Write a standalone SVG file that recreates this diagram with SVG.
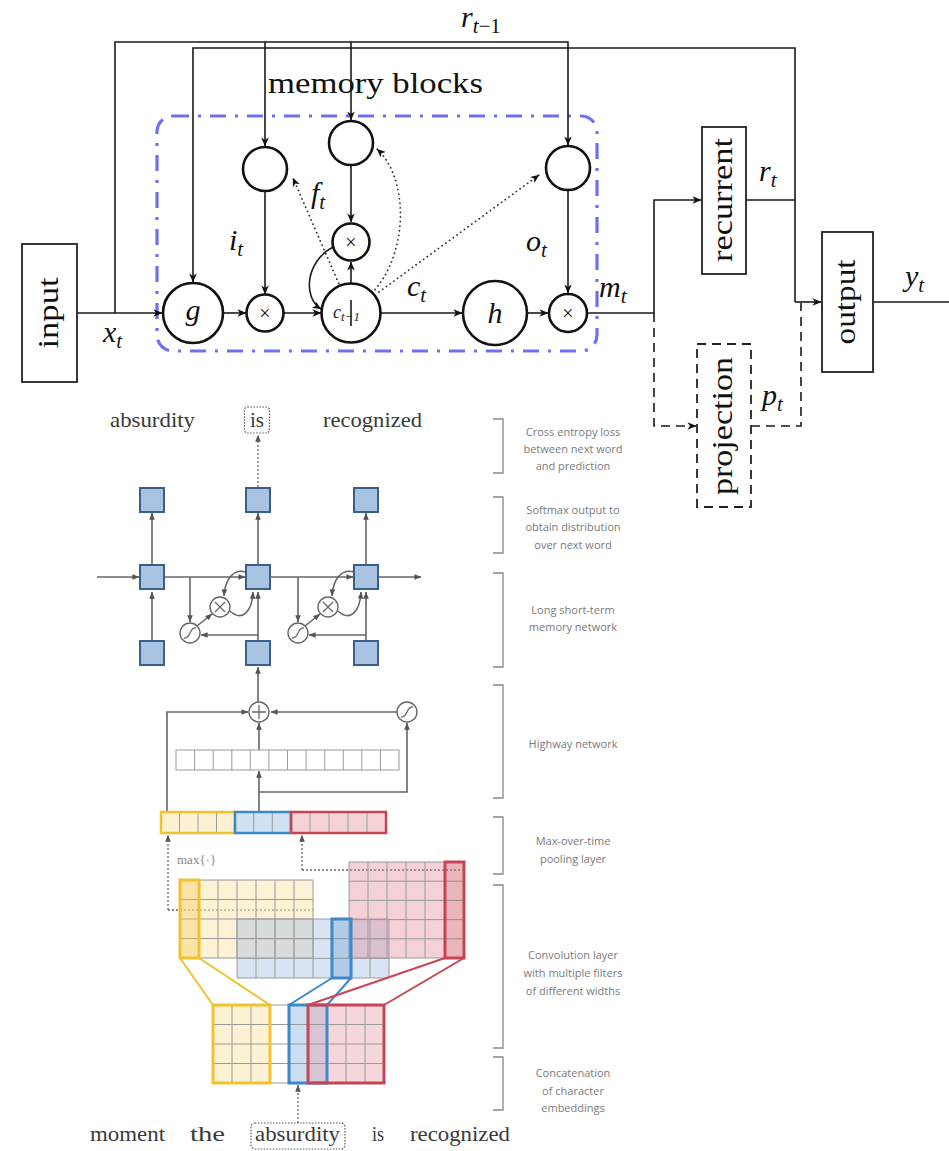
<svg xmlns="http://www.w3.org/2000/svg" width="949" height="1151" viewBox="0 0 949 1151">
<defs>
<marker id="ab" viewBox="0 0 10 10" refX="9.5" refY="5" markerWidth="9" markerHeight="9" markerUnits="userSpaceOnUse" orient="auto"><path d="M0,0.8 L10,5 L0,9.2 L2.8,5z" fill="#111"/></marker>
<marker id="ag" viewBox="0 0 10 10" refX="9.5" refY="5" markerWidth="7" markerHeight="7" markerUnits="userSpaceOnUse" orient="auto"><path d="M0,1 L10,5 L0,9 z" fill="#555"/></marker>
<style>
.ln{fill:none;stroke:#1a1a1a;stroke-width:1.6}
.dsh{fill:none;stroke:#1a1a1a;stroke-width:1.6;stroke-dasharray:9 6}
.dot{fill:none;stroke:#333;stroke-width:1.8;stroke-dasharray:0.1 4.5;stroke-linecap:round}
.cir{fill:#fff;stroke:#111;stroke-width:2.6}
.box{fill:#fff;stroke:#222;stroke-width:1.8}
.m{font-family:"Liberation Serif",serif;font-style:italic;font-size:30px;fill:#111}
.rm{font-family:"Liberation Serif",serif;font-size:30px;fill:#111}
.x{font-family:"Liberation Serif",serif;font-size:20px;fill:#111;text-anchor:middle}
.gl{fill:none;stroke:#666;stroke-width:1.6}
.gd{fill:none;stroke:#666;stroke-width:1.3;stroke-dasharray:2 2}
.sq{fill:#a9c4e2;stroke:#3b5e8c;stroke-width:2}
.gc{fill:#fff;stroke:#666;stroke-width:1.4}
.gs{fill:none;stroke:#666;stroke-width:1.3}
.grid{fill:none;stroke:#9a9a9a;stroke-width:1}
.w{font-family:"Liberation Serif",serif;font-size:21px;fill:#3a3a3a}
.lab{font-family:"Open Sans",sans-serif;font-size:11px;fill:#7a7a7a;text-anchor:middle}
.br{fill:none;stroke:#888;stroke-width:1.3}
</style>
</defs>
<rect width="949" height="1151" fill="#fff"/>

<!-- ===== TOP: LSTM with projection ===== -->
<g id="memblock">
<rect x="157" y="116" width="440" height="235" rx="16" fill="none" stroke="#6f6ff2" stroke-width="3.2" stroke-dasharray="16 9 3 9"/>
<text class="rm" x="268" y="93" textLength="215" lengthAdjust="spacingAndGlyphs">memory blocks</text>
</g>

<g id="connectors">
<path class="ln" d="M115,313 V42 H568 V145" marker-end="url(#ab)"/>
<path class="ln" d="M265,42 V146" marker-end="url(#ab)"/>
<path class="ln" d="M351,42 V120" marker-end="url(#ab)"/>
<path class="ln" d="M795,302 V48 H193 V282" marker-end="url(#ab)"/>
<path class="ln" d="M77,313 H162" marker-end="url(#ab)"/>
<path class="ln" d="M223,313 H246" marker-end="url(#ab)"/>
<path class="ln" d="M265,191 V294" marker-end="url(#ab)"/>
<path class="ln" d="M284,313 H321" marker-end="url(#ab)"/>
<path class="ln" d="M351,165 V222" marker-end="url(#ab)"/>
<path class="ln" d="M351,326 V262" marker-end="url(#ab)"/>
<path class="ln" d="M333,247 C305,262 303,298 321,309" marker-end="url(#ab)"/>
<path class="ln" d="M381,313 H462" marker-end="url(#ab)"/>
<path class="ln" d="M527,313 H548" marker-end="url(#ab)"/>
<path class="ln" d="M568,190 V293" marker-end="url(#ab)"/>
<path class="ln" d="M587,313 H654 V200 H701" marker-end="url(#ab)"/>
<path class="ln" d="M746,200 H795"/>
<path class="ln" d="M795,302 H821" marker-end="url(#ab)"/>
<path class="ln" d="M873,302 H949"/>
<path class="dsh" d="M654,313 V426 H696" marker-end="url(#ab)"/>
<path class="dsh" d="M751,426 H801 V303"/>
<path class="dot" d="M346,300 Q322,245 293,178" marker-end="url(#ab)"/>
<path class="dot" d="M372,293 C408,255 410,180 377,149" marker-end="url(#ab)"/>
<path class="dot" d="M379,292 L539,175" marker-end="url(#ab)"/>
</g>

<g id="input"><rect class="box" x="22" y="244" width="55" height="138"/>
<text class="rm" transform="translate(58,313) rotate(-90)" text-anchor="middle" textLength="71" lengthAdjust="spacingAndGlyphs">input</text></g>
<g id="g-node"><circle class="cir" cx="193" cy="313" r="30"/><text class="m" x="193" y="320" text-anchor="middle">g</text></g>
<g id="igate"><circle class="cir" cx="265" cy="169" r="22"/></g>
<g id="fgate"><circle class="cir" cx="351" cy="143" r="22"/></g>
<g id="ogate"><circle class="cir" cx="568" cy="168" r="22"/></g>
<g id="imul"><circle class="cir" cx="265" cy="313" r="18.5"/><text class="x" x="265" y="320">×</text></g>
<g id="fmul"><circle class="cir" cx="351" cy="242" r="18.5"/><text class="x" x="351" y="249">×</text></g>
<g id="cell"><circle class="cir" cx="351" cy="313" r="29.5"/>
<text x="333" y="318" font-family="Liberation Serif,serif" font-style="italic" font-size="18" fill="#222">c<tspan font-size="13" dy="3">t−1</tspan></text>
<path class="ln" d="M351,326 V300"/></g>
<g id="h-node"><circle class="cir" cx="495" cy="313" r="32"/><text class="m" x="495" y="323" text-anchor="middle" font-size="34">h</text></g>
<g id="omul"><circle class="cir" cx="568" cy="313" r="19"/><text class="x" x="568" y="320">×</text></g>
<g id="recurrent"><rect class="box" x="702" y="127" width="44" height="147"/>
<text class="rm" transform="translate(732,200) rotate(-90)" text-anchor="middle" textLength="124" lengthAdjust="spacingAndGlyphs">recurrent</text></g>
<g id="output"><rect class="box" x="822" y="232" width="51" height="140"/>
<text class="rm" transform="translate(855,302) rotate(-90)" text-anchor="middle" textLength="85" lengthAdjust="spacingAndGlyphs">output</text></g>
<g id="projection"><rect class="box" x="697" y="344" width="54" height="163" stroke-dasharray="9 6"/>
<text class="rm" transform="translate(732,426) rotate(-90)" text-anchor="middle" textLength="138" lengthAdjust="spacingAndGlyphs">projection</text></g>

<g id="labels">
<text class="m" x="461" y="27">r<tspan font-size="21" dy="6" font-style="italic">t</tspan><tspan font-size="21" font-style="normal">−1</tspan></text>
<text class="m" x="759" y="181">r<tspan font-size="21" dy="6">t</tspan></text>
<text class="m" x="103" y="342">x<tspan font-size="21" dy="6">t</tspan></text>
<text class="m" x="229" y="250">i<tspan font-size="21" dy="6">t</tspan></text>
<text class="m" x="311" y="203">f<tspan font-size="21" dy="6">t</tspan></text>
<text class="m" x="407" y="296">c<tspan font-size="21" dy="6">t</tspan></text>
<text class="m" x="526" y="251">o<tspan font-size="21" dy="6">t</tspan></text>
<text class="m" x="599" y="297">m<tspan font-size="21" dy="6">t</tspan></text>
<text class="m" x="762" y="405">p<tspan font-size="21" dy="6">t</tspan></text>
<text class="m" x="905" y="286">y<tspan font-size="21" dy="6">t</tspan></text>
</g>

<!-- ===== BOTTOM: character-aware LM ===== -->
<g id="out-words">
<text class="w" x="110" y="427" textLength="85" lengthAdjust="spacingAndGlyphs">absurdity</text>
<rect x="244.5" y="407" width="25" height="26" rx="3" fill="none" stroke="#555" stroke-width="1.2" stroke-dasharray="1.5 1.5"/>
<text class="w" x="257" y="427" text-anchor="middle">is</text>
<text class="w" x="323" y="427" textLength="99" lengthAdjust="spacingAndGlyphs">recognized</text>
<path class="gd" d="M258,487 V435" marker-end="url(#ag)"/>
</g>

<g id="lstm-connectors">
<path class="gl" d="M97,577 H139" marker-end="url(#ag)"/>
<path class="gl" d="M164,577 H245" marker-end="url(#ag)"/>
<path class="gl" d="M271,577 H353" marker-end="url(#ag)"/>
<path class="gl" d="M378,577 H421" marker-end="url(#ag)"/>
<path class="gl" d="M152,640 V592" marker-end="url(#ag)"/>
<path class="gl" d="M258,640 V592" marker-end="url(#ag)"/>
<path class="gl" d="M366,640 V592" marker-end="url(#ag)"/>
<path class="gl" d="M152,565 V513" marker-end="url(#ag)"/>
<path class="gl" d="M258,565 V513" marker-end="url(#ag)"/>
<path class="gl" d="M366,565 V513" marker-end="url(#ag)"/>
<path class="gl" d="M258,702 V667" marker-end="url(#ag)"/>
<path class="gl" d="M190,577 V622" marker-end="url(#ag)"/>
<path class="gl" d="M197,626 L212,614" marker-end="url(#ag)"/>
<path class="gl" d="M246,572 C233,568 225,580 224,596" marker-end="url(#ag)"/>
<path class="gl" d="M230,611 C242,622 252,612 253,592" marker-end="url(#ag)"/>
<path class="gl" d="M258,635 H201" marker-end="url(#ag)"/>
<path class="gl" d="M298,577 V622" marker-end="url(#ag)"/>
<path class="gl" d="M305,626 L320,614" marker-end="url(#ag)"/>
<path class="gl" d="M354,572 C341,568 333,580 332,596" marker-end="url(#ag)"/>
<path class="gl" d="M338,611 C350,622 360,612 361,592" marker-end="url(#ag)"/>
<path class="gl" d="M366,635 H309" marker-end="url(#ag)"/>
</g>
<g id="lstm-squares">
<rect class="sq" x="140" y="488" width="24" height="24"/>
<rect class="sq" x="246" y="488" width="24" height="24"/>
<rect class="sq" x="354" y="488" width="24" height="24"/>
<rect class="sq" x="140" y="565" width="24" height="24"/>
<rect class="sq" x="246" y="565" width="24" height="24"/>
<rect class="sq" x="354" y="565" width="24" height="24"/>
<rect class="sq" x="140" y="641" width="24" height="24"/>
<rect class="sq" x="246" y="641" width="24" height="24"/>
<rect class="sq" x="354" y="641" width="24" height="24"/>
</g>
<g id="lstm-ops">
<circle class="gc" cx="190" cy="633" r="10"/><path class="gs" d="M184,638 C191,639 189,627 196,628"/>
<circle class="gc" cx="220" cy="607" r="10"/><path class="gs" d="M215,602 L225,612 M225,602 L215,612"/>
<circle class="gc" cx="298" cy="633" r="10"/><path class="gs" d="M292,638 C299,639 297,627 304,628"/>
<circle class="gc" cx="328" cy="607" r="10"/><path class="gs" d="M323,602 L333,612 M333,602 L323,612"/>
</g>

<g id="highway">
<path class="gl" d="M397,712 H271" marker-end="url(#ag)"/>
<path class="gl" d="M167,812 V712 H248" marker-end="url(#ag)"/>
<path class="gl" d="M259,750 V723" marker-end="url(#ag)"/>
<path class="gl" d="M259,812 V771" marker-end="url(#ag)"/>
<path class="gl" d="M259,792 H407 V723" marker-end="url(#ag)"/>
<circle class="gc" cx="259" cy="712" r="10"/><path class="gs" d="M252,712 H266 M259,705 V719"/>
<circle class="gc" cx="407" cy="712" r="10"/><path class="gs" d="M401,717 C408,718 406,706 413,707"/>
<rect x="176" y="750" width="223" height="20" fill="#fff" stroke="#999" stroke-width="1"/>
<path class="grid" d="M194.6,750V770 M213.2,750V770 M231.8,750V770 M250.3,750V770 M268.9,750V770 M287.5,750V770 M306.1,750V770 M324.7,750V770 M343.3,750V770 M361.8,750V770 M380.4,750V770"/>
</g>

<g id="pooling">
<rect x="161" y="812" width="74" height="21" fill="#fdf1d3"/>
<rect x="235" y="812" width="56" height="21" fill="#cfe2f4"/>
<rect x="291" y="812" width="95" height="21" fill="#f4d3d7"/>
<path class="grid" d="M179.5,812V833 M198,812V833 M216.5,812V833 M253.7,812V833 M272.3,812V833 M310,812V833 M329,812V833 M348,812V833 M367,812V833"/>
<rect x="161" y="812" width="74" height="21" fill="none" stroke="#f2c12e" stroke-width="2.5"/>
<rect x="235" y="812" width="56" height="21" fill="none" stroke="#3c88c8" stroke-width="2.5"/>
<rect x="291" y="812" width="95" height="21" fill="none" stroke="#c84455" stroke-width="2.5"/>
<text x="177" y="864" font-family="Liberation Serif,serif" font-size="13" fill="#888">max{·}</text>
<path class="gd" d="M168,910 V835" marker-end="url(#ag)"/>
<path class="gd" d="M168,910 H313"/>
<path class="gd" d="M302,870 V835" marker-end="url(#ag)"/>
<path class="gd" d="M302,870 H463"/>
</g>

<g id="convolution">
<rect x="180" y="880" width="133" height="78" fill="#fbe6b4" fill-opacity="0.55"/>
<path class="grid" d="M180,880H313V958H180Z M199,880V958 M218,880V958 M237,880V958 M256,880V958 M275,880V958 M294,880V958 M180,899.5H313 M180,919H313 M180,938.5H313"/>
<rect x="237" y="919" width="152" height="59" fill="#a9c1e4" fill-opacity="0.45"/>
<path class="grid" d="M237,919H389V978H237Z M256,919V978 M275,919V978 M294,919V978 M313,919V978 M332,919V978 M351,919V978 M370,919V978 M237,938.7H389 M237,958.3H389"/>
<rect x="349" y="862" width="115" height="96" fill="#e08c98" fill-opacity="0.4"/>
<path class="grid" d="M349,862H464V958H349Z M368,862V958 M387,862V958 M406,862V958 M425,862V958 M445,862V958 M349,881.2H464 M349,900.4H464 M349,919.6H464 M349,938.8H464"/>
<rect x="180" y="880" width="19" height="78" fill="#f5c850" fill-opacity="0.35" stroke="#f2c12e" stroke-width="3"/>
<rect x="332" y="919" width="19" height="59" fill="#3c88c8" fill-opacity="0.25" stroke="#3c88c8" stroke-width="3"/>
<rect x="445" y="862" width="19" height="96" fill="#c84455" fill-opacity="0.2" stroke="#c84455" stroke-width="3"/>
<path d="M180,958 L213,1005 M199,958 L270,1005" fill="none" stroke="#f2c12e" stroke-width="2"/>
<path d="M332,978 L289,1005 M351,978 L327,1005" fill="none" stroke="#3c88c8" stroke-width="2"/>
<path d="M445,958 L308,1005 M464,958 L384,1005" fill="none" stroke="#c84455" stroke-width="2"/>
</g>

<g id="embeddings">
<rect x="213" y="1005" width="171" height="78" fill="#fff"/>
<rect x="213" y="1005" width="57" height="78" fill="#fdf1d3"/>
<rect x="289" y="1005" width="38" height="78" fill="#a9c8ec" fill-opacity="0.6"/>
<rect x="308" y="1005" width="76" height="78" fill="#e8a4b0" fill-opacity="0.45"/>
<path class="grid" d="M213,1005H384V1083H213Z M232,1005V1083 M251,1005V1083 M270,1005V1083 M289,1005V1083 M308,1005V1083 M327,1005V1083 M346,1005V1083 M365,1005V1083 M213,1024.5H384 M213,1044H384 M213,1063.5H384"/>
<rect x="213" y="1005" width="57" height="78" fill="none" stroke="#f2c12e" stroke-width="3"/>
<rect x="289" y="1005" width="38" height="78" fill="none" stroke="#3c88c8" stroke-width="3"/>
<rect x="308" y="1005" width="76" height="78" fill="none" stroke="#c84455" stroke-width="3"/>
<path class="gd" d="M298,1123 V1085" marker-end="url(#ag)"/>
</g>

<g id="in-words">
<text class="w" x="90" y="1141" textLength="75" lengthAdjust="spacingAndGlyphs">moment</text>
<text class="w" x="190" y="1141" textLength="35" lengthAdjust="spacingAndGlyphs">the</text>
<rect x="251" y="1123" width="94" height="26" rx="4" fill="none" stroke="#555" stroke-width="1.2" stroke-dasharray="1.5 1.5"/>
<text class="w" x="255" y="1141" textLength="85" lengthAdjust="spacingAndGlyphs">absurdity</text>
<text class="w" x="372" y="1141" textLength="12" lengthAdjust="spacingAndGlyphs">is</text>
<text class="w" x="410" y="1141" textLength="100" lengthAdjust="spacingAndGlyphs">recognized</text>
</g>

<g id="layer-labels">
<path class="br" d="M493,419 H503 V473 H493"/>
<text class="lab" x="573" y="436">Cross entropy loss</text>
<text class="lab" x="573" y="453">between next word</text>
<text class="lab" x="573" y="470">and prediction</text>
<path class="br" d="M493,497 H503 V553 H493"/>
<text class="lab" x="573" y="514">Softmax output to</text>
<text class="lab" x="573" y="531">obtain distribution</text>
<text class="lab" x="573" y="549">over next word</text>
<path class="br" d="M493,573 H503 V667 H493"/>
<text class="lab" x="573" y="614">Long short-term</text>
<text class="lab" x="573" y="631">memory network</text>
<path class="br" d="M493,685 H503 V798 H493"/>
<text class="lab" x="573" y="748">Highway network</text>
<path class="br" d="M493,817 H503 V874 H493"/>
<text class="lab" x="573" y="845">Max-over-time</text>
<text class="lab" x="573" y="863">pooling layer</text>
<path class="br" d="M493,885 H503 V1048 H493"/>
<text class="lab" x="573" y="959">Convolution layer</text>
<text class="lab" x="573" y="977">with multiple filters</text>
<text class="lab" x="573" y="995">of different widths</text>
<path class="br" d="M493,1057 H503 V1110 H493"/>
<text class="lab" x="573" y="1077">Concatenation</text>
<text class="lab" x="573" y="1095">of character</text>
<text class="lab" x="573" y="1112">embeddings</text>
</g>
</svg>
